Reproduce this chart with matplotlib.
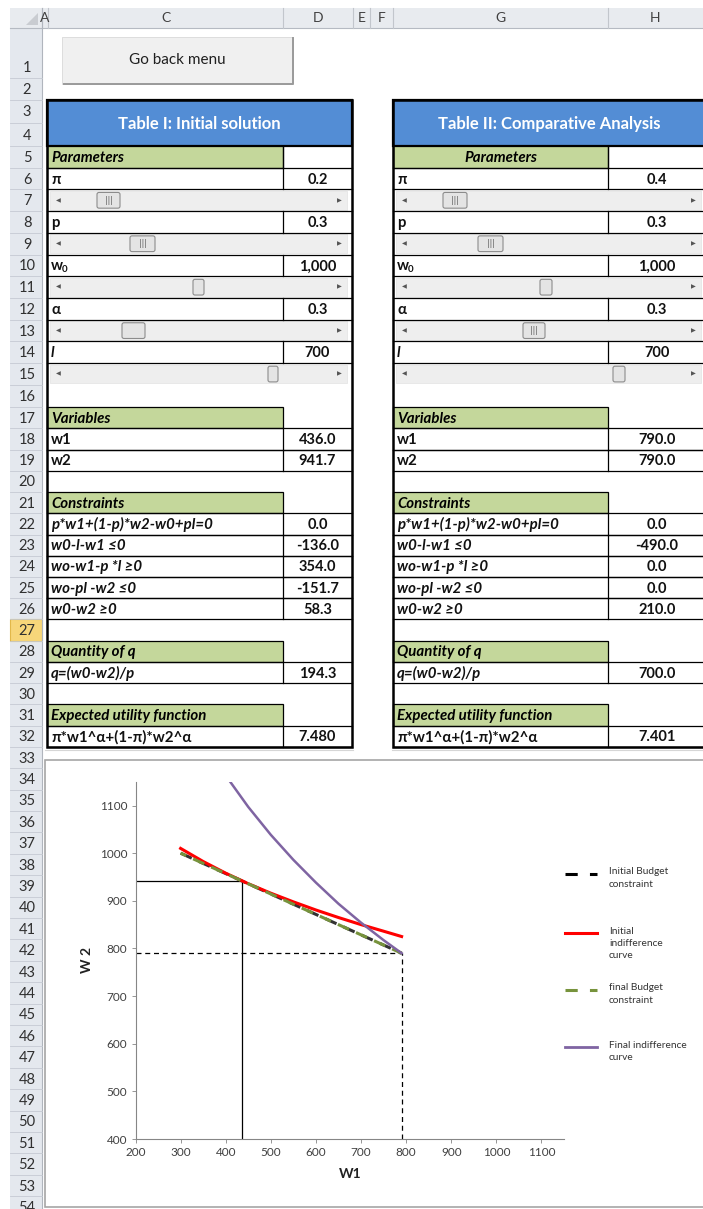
import matplotlib
matplotlib.use("Agg")
import matplotlib.pyplot as plt
from matplotlib.patches import Rectangle, FancyBboxPatch, Polygon
from matplotlib.lines import Line2D

# ---- table data ----
param_labels = ["π", "p", "w₀", "α", "l"]
init_params = ["0.2", "0.3", "1,000", "0.3", "700"]
final_params = ["0.4", "0.3", "1,000", "0.3", "700"]
var_labels = ["w1", "w2"]
init_vars = ["436.0", "941.7"]
final_vars = ["790.0", "790.0"]
constraint_labels = ["p*w1+(1-p)*w2-w0+pl=0", "w0-l-w1 ≤0", "wo-w1-p *l ≥0",
                     "wo-pl -w2 ≤0", "w0-w2 ≥0"]
init_constraints = ["0.0", "-136.0", "354.0", "-151.7", "58.3"]
final_constraints = ["0.0", "-490.0", "0.0", "0.0", "210.0"]
q_label = "q=(w0-w2)/p"
init_q, final_q = "194.3", "700.0"
eu_label = "π*w1^α+(1-π)*w2^α"
init_eu, final_eu = "7.480", "7.401"

# ---- chart data ----
w1_grid = [300, 350, 400, 450, 500, 550, 600, 650, 700, 750, 790]
initial_indiff = [1010, 982.5, 958, 935.9, 916, 897.8, 880.7, 864.9, 850, 836.2, 825]
final_indiff = [1326, 1239, 1163, 1097, 1038.5, 986, 938.2, 893.8, 854.1, 817.4, 790]
budget_w1 = [300, 790]
budget_w2 = [1000, 790]
w1_init, w2_init = 436.0, 941.7
w1_final, w2_final = 790.0, 790.0

plt.rcParams["font.family"] = ["Lato", "DejaVu Sans"]

BLUE = "#538dd5"
GREEN = "#c4d79b"
HEAD = "#e4e8ee"
LABEL_FS = 10.8
VALUE_FS = 10.5

fig = plt.figure(figsize=(7.03, 12.09), dpi=100)
sh = fig.add_axes([0, 0, 1, 1])
sh.set_xlim(0, 703)
sh.set_ylim(1209, 0)
sh.axis("off")

# row geometry (pixels)
heights = [50, 22, 23, 23] + [21.72] * 13 + [21.23] * 15 + [21.4] * 24
tops = [28]
for h in heights:
    tops.append(tops[-1] + h)


def top(r):
    return tops[r - 1]


def bot(r):
    return tops[r]


def mid(r):
    return (top(r) + bot(r)) / 2 + 1


def rect(x, y, w, h, **kw):
    sh.add_patch(Rectangle((x, y), w, h, **kw))


# column headers
rect(10, 8, 693, 20, fc="#e8ebef", ec="none")
sh.plot([10, 703], [28, 28], color="#b5bac2", lw=0.8)
for xs in [42, 48, 283, 353, 370, 393, 608]:
    sh.plot([xs, xs], [8, 28], color="#c2c6cc", lw=0.8)
for letter, xc in [("A", 45), ("C", 165.5), ("D", 318), ("E", 361.5),
                   ("F", 381.5), ("G", 500.5), ("H", 655)]:
    sh.text(xc, 18.5, letter, ha="center", va="center", fontsize=10, color="#404040")
sh.add_patch(Polygon([[38, 13], [38, 25], [26, 25]], closed=True, fc="#c9ccd1", ec="none"))

# row headers
rect(10, 28, 32, 1181, fc=HEAD, ec="none")
sh.plot([42, 42], [8, 1209], color="#b0b5bd", lw=0.8)
for r in range(1, 55):
    if top(r) > 1209:
        break
    if r == 27:
        rect(10, top(r), 32, bot(r) - top(r), fc="#f7d67a", ec="#e2b84a", lw=0.8)
    sh.plot([10, 42], [bot(r), bot(r)], color="#c5cad3", lw=0.6)
    yy = 68 if r == 1 else mid(r)
    sh.text(27, yy, str(r), ha="center", va="center", fontsize=10.5, color="#303030")

# button
rect(62, 37, 231, 47, fc="#f0f0f0", ec="#d8d8d8", lw=0.6)
sh.plot([64, 293, 293], [84, 84, 38], color="#9a9a9a", lw=1.4)
sh.text(177, 60, "Go back menu", ha="center", va="center", fontsize=11, color="#202020")


def scrollbar(xl, xr, r, tx, tw, grip):
    yt, yb = top(r) + 1.5, bot(r) - 1.5
    rect(xl, yt, xr - xl, yb - yt, fc="#eeeeee", ec="#e2e2e2", lw=0.5)
    sh.text(xl + 8, (yt + yb) / 2, "◀", ha="center", va="center", fontsize=4.5,
            color="#555555", family="DejaVu Sans")
    sh.text(xr - 8, (yt + yb) / 2, "▶", ha="center", va="center", fontsize=4.5,
            color="#555555", family="DejaVu Sans")
    sh.add_patch(FancyBboxPatch((tx, yt + 1.5), tw, yb - yt - 3,
                                boxstyle="round,pad=0,rounding_size=2",
                                fc="#e4e4e4", ec="#8c8c8c", lw=0.8))
    if grip:
        sh.text(tx + tw / 2, (yt + yb) / 2, "|||", ha="center", va="center",
                fontsize=5.5, color="#555555", family="DejaVu Sans")


def label(x, y, lab, st):
    # w0 gets a visible subscript like the spreadsheet cell
    if lab == "w₀":
        sh.text(x, y, "w", ha="left", va="center", fontsize=LABEL_FS,
                fontweight="bold", color="#111111")
        sh.text(x + 11, y + 3.5, "0", ha="left", va="center", fontsize=7,
                fontweight="bold", color="#111111")
    else:
        sh.text(x, y, lab, ha="left", va="center", fontsize=LABEL_FS,
                fontweight="bold", style=st, color="#111111")


def draw_table(x0, xm, x1, title, pvals, vvals, cvals, qval, euval,
               thumbs, centered_params):
    # header
    rect(x0, top(3), x1 - x0, top(5) - top(3), fc=BLUE, ec="black", lw=1.6)
    sh.text((x0 + x1) / 2, (top(3) + top(5)) / 2 + 1, title, ha="center", va="center",
            fontsize=12, fontweight="bold", color="white")
    lx = x0 + 4
    vx = (xm + x1) / 2
    greens = [(5, "Parameters"), (17, "Variables"), (21, "Constraints"),
              (28, "Quantity of q"), (31, "Expected utility function")]
    for r, lab in greens:
        rect(x0, top(r), xm - x0, bot(r) - top(r), fc=GREEN, ec="black", lw=0.9)
        if r == 5 and centered_params:
            sh.text((x0 + xm) / 2, mid(r), lab, ha="center", va="center",
                    fontsize=LABEL_FS, fontweight="bold", style="italic")
        else:
            sh.text(lx, mid(r), lab, ha="left", va="center", fontsize=LABEL_FS,
                    fontweight="bold", style="italic")
    rows = []
    for i, r in enumerate([6, 8, 10, 12, 14]):
        rows.append((r, param_labels[i], pvals[i], "italic" if param_labels[i] == "l" else "normal"))
    for i, r in enumerate([18, 19]):
        rows.append((r, var_labels[i], vvals[i], "normal"))
    for i, r in enumerate([22, 23, 24, 25, 26]):
        rows.append((r, constraint_labels[i], cvals[i], "italic"))
    rows.append((29, q_label, qval, "italic"))
    rows.append((32, eu_label, euval, "normal"))
    for r, lab, val, st in rows:
        sh.plot([x0, x1], [top(r), top(r)], color="black", lw=0.9)
        sh.plot([x0, x1], [bot(r), bot(r)], color="black", lw=0.9)
        sh.plot([xm, xm], [top(r), bot(r)], color="black", lw=0.9)
        label(lx, mid(r), lab, st)
        sh.text(vx, mid(r), val, ha="center", va="center", fontsize=VALUE_FS,
                fontweight="bold", color="#111111")
    sh.plot([xm, xm], [top(5), bot(5)], color="black", lw=0.9)
    for r, (tx, tw, grip) in zip([7, 9, 11, 13, 15], thumbs):
        scrollbar(x0 + 3, x1 - 5, r, tx, tw, grip)
    rect(x0, top(3), x1 - x0, bot(32) - top(3), fc="none", ec="black", lw=1.8)


draw_table(47, 283, 352, "Table I: Initial solution", init_params, init_vars,
           init_constraints, init_q, init_eu,
           [(97, 23, True), (130, 25, True), (193, 11, False), (122, 23, False),
            (268, 10, False)], False)
draw_table(393, 608, 706, "Table II: Comparative Analysis", final_params, final_vars,
           final_constraints, final_q, final_eu,
           [(443, 24, True), (478, 25, True), (540, 12, False), (523, 22, True),
            (613, 12, False)], True)

# faint line under tables
sh.plot([45, 353], [750, 750], color="#d6d6d6", lw=0.8)
sh.plot([392, 703], [750, 750], color="#d6d6d6", lw=0.8)

# chart area
rect(45, 760, 670, 447, fc="white", ec="#a6a6a6", lw=1.2)

# legend (drawn on sheet)
leg = [
    (874, "Initial Budget\nconstraint", dict(color="black", lw=2.2, ls=(0, (4, 4)))),
    (933, "Initial\nindifference\ncurve", dict(color="#ff0000", lw=2.2, ls="-")),
    (990, "final Budget\nconstraint", dict(color="#77933c", lw=2.2, ls=(0, (4, 4)))),
    (1047, "Final indifference\ncurve", dict(color="#7f64a2", lw=2.0, ls="-")),
]
for y, lab, st in leg:
    sh.add_line(Line2D([565, 597], [y, y], **st))
    sh.text(609, y - 6.5, lab, ha="left", va="top", fontsize=7.3, color="#333333",
            linespacing=1.45)

# chart axes
ax = fig.add_axes([135.5 / 703, (1209 - 1139) / 1209, (564 - 135.5) / 703,
                   (1139 - 781.7) / 1209])
ax.set_facecolor("none")
ax.set_xlim(200, 1150)
ax.set_ylim(400, 1150)
for s in ["top", "right"]:
    ax.spines[s].set_visible(False)
for s in ["left", "bottom"]:
    ax.spines[s].set_color("#868686")
    ax.spines[s].set_linewidth(0.8)
ax.set_xticks(range(200, 1101, 100))
ax.set_yticks(range(400, 1101, 100))
ax.tick_params(length=3, width=0.6, color="#868686", labelsize=8.5,
               labelcolor="#404040", pad=3)

ax.plot([200, w1_init], [w2_init, w2_init], color="black", lw=0.9)
ax.plot([w1_init, w1_init], [400, w2_init], color="black", lw=0.9)
ax.plot([200, w1_final], [w2_final, w2_final], color="black", lw=0.9, ls=(0, (4, 3)))
ax.plot([w1_final, w1_final], [400, w2_final], color="black", lw=0.9, ls=(0, (4, 3)))

ax.plot(budget_w1, budget_w2, color="#333333", lw=2.2, ls=(0, (4, 2.5)),
        label="Initial Budget constraint")
ax.plot(w1_grid, initial_indiff, color="#ff0000", lw=2.2,
        label="Initial indifference curve")
ax.plot(budget_w1, budget_w2, color="#77933c", lw=2.2, ls=(2, (4, 2.5)),
        label="final Budget constraint")
ax.plot(w1_grid, final_indiff, color="#7f64a2", lw=1.8,
        label="Final indifference curve")

ax.set_xlabel("W1", fontsize=10, fontweight="bold", color="#222222", labelpad=7)
ax.set_ylabel("W 2", fontsize=10, fontweight="bold", color="#222222", labelpad=5)

fig.savefig("out.png", dpi=100)
